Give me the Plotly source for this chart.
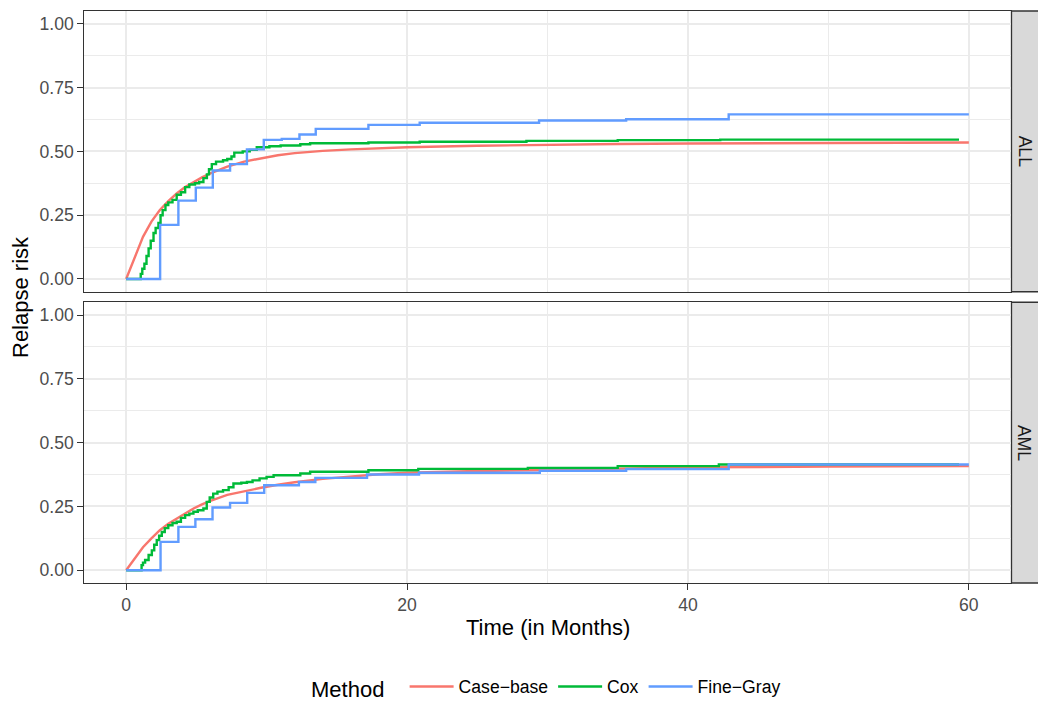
import plotly.graph_objects as go

# ---------------- data ----------------
methods = ["Case\u2212base", "Cox", "Fine\u2212Gray"]
method_colors = ["#F8766D", "#00BA38", "#619CFF"]
panels = ["ALL", "AML"]

# Case-base (smooth curves)
cb_t = [0, 1.2, 1.8, 2.4, 3.0, 3.6, 4.2, 4.8, 5.4, 6.0, 7.2, 8.4, 9.6, 10.8, 12,
        14, 16, 18, 20, 25, 30, 35, 40, 50, 60]
all_cb_y = [0, 0.165, 0.225, 0.27, 0.305, 0.335, 0.36, 0.38, 0.398, 0.414, 0.44,
            0.46, 0.474, 0.485, 0.493, 0.502, 0.508, 0.513, 0.516, 0.522, 0.526,
            0.529, 0.531, 0.534, 0.535]
aml_cb_y = [0, 0.09, 0.125, 0.157, 0.182, 0.203, 0.224, 0.242, 0.258, 0.272, 0.295,
            0.31, 0.323, 0.335, 0.345, 0.358, 0.368, 0.376, 0.382, 0.389, 0.393,
            0.399, 0.403, 0.406, 0.408]

# Cox (step functions)
all_cox_t = [0, 1.04, 1.15, 1.3, 1.45, 1.6, 1.75, 1.95, 2.1, 2.3, 2.45, 2.6, 2.8, 3.0,
             3.3, 3.6, 3.9, 4.2, 4.5, 4.9, 5.2, 5.5, 5.75, 5.9, 6.1, 6.4, 6.9, 7.2,
             7.5, 7.7, 8.3, 8.8, 9.3, 10.2, 11.0, 12.4, 13.1, 17.25, 20.9, 28.5,
             35.0, 42.3, 59.3]
all_cox_y = [0, 0.02, 0.04, 0.06, 0.09, 0.12, 0.15, 0.18, 0.2, 0.22, 0.25, 0.27, 0.29,
             0.3, 0.31, 0.33, 0.34, 0.36, 0.37, 0.375, 0.38, 0.395, 0.41, 0.43, 0.45,
             0.46, 0.465, 0.47, 0.48, 0.495, 0.5, 0.506, 0.516, 0.52, 0.523, 0.528,
             0.532, 0.535, 0.538, 0.541, 0.544, 0.546, 0.546]
aml_cox_t = [0, 1.1, 1.2, 1.35, 1.6, 1.83, 2.0, 2.18, 2.35, 2.54, 2.75, 3.0, 3.3, 3.6,
             3.9, 4.2, 4.5, 4.79, 5.1, 5.5, 5.74, 5.95, 6.2, 6.5, 6.9, 7.3, 7.64, 8.2,
             8.6, 9.0, 9.5, 10.0, 10.5, 12.4, 13.1, 17.25, 20.8, 28.6, 35.0, 42.2, 59.3]
aml_cox_y = [0, 0.02, 0.03, 0.04, 0.06, 0.078, 0.1, 0.118, 0.135, 0.15, 0.165, 0.176,
             0.185, 0.19, 0.205, 0.216, 0.222, 0.229, 0.235, 0.242, 0.268, 0.285, 0.3,
             0.308, 0.314, 0.325, 0.34, 0.343, 0.346, 0.352, 0.36, 0.366, 0.372, 0.379,
             0.386, 0.392, 0.397, 0.401, 0.408, 0.414, 0.414]

# Fine-Gray (step functions)
all_fg_t = [0, 2.42, 3.72, 4.96, 6.17, 7.4, 8.6, 9.8, 11.08, 12.34, 13.5, 17.25, 20.9,
            29.4, 35.6, 42.9, 60]
all_fg_y = [0, 0.212, 0.307, 0.358, 0.425, 0.45, 0.508, 0.545, 0.549, 0.566, 0.588,
            0.604, 0.612, 0.621, 0.626, 0.645, 0.645]
aml_fg_t = [0, 2.45, 3.72, 4.93, 6.15, 7.4, 8.62, 9.83, 12.3, 13.47, 17.15, 20.85,
            29.45, 35.6, 42.9, 60]
aml_fg_y = [0, 0.111, 0.17, 0.2, 0.246, 0.264, 0.303, 0.333, 0.346, 0.362, 0.375,
            0.382, 0.39, 0.396, 0.414, 0.414]

x_ticks = [0, 20, 40, 60]
y_ticks = [0, 0.25, 0.5, 0.75, 1.0]
y_ticklabels = ["0.00", "0.25", "0.50", "0.75", "1.00"]

# ---------------- figure ----------------
W, H = 1038, 702
ml, mt = 84, 11
pw, ph = 927, 572
mr = W - ml - pw
mb = H - mt - ph
gap = 10.5 / ph

fig = go.Figure()
FONT = "Liberation Sans, Arial, sans-serif"
GRID = "#EBEBEB"
BORDER = "#333333"

series = {
    "ALL": [(cb_t, all_cb_y, "linear"), (all_cox_t, all_cox_y, "hv"), (all_fg_t, all_fg_y, "hv")],
    "AML": [(cb_t, aml_cb_y, "linear"), (aml_cox_t, aml_cox_y, "hv"), (aml_fg_t, aml_fg_y, "hv")],
}

for pi, panel in enumerate(panels):
    ax = "" if pi == 0 else "2"
    for mi, (t, y, shape) in enumerate(series[panel]):
        fig.add_trace(go.Scatter(
            x=t, y=y, mode="lines", name=methods[mi],
            line=dict(color=method_colors[mi], width=2.4, shape=shape),
            legendgroup=methods[mi], showlegend=(pi == 0),
            xaxis="x" + ax, yaxis="y" + ax,
        ))

axis_common = dict(
    showline=True, mirror=True, linecolor=BORDER, linewidth=1.3,
    showgrid=True, gridcolor=GRID, gridwidth=2, zeroline=False,
    ticks="outside", ticklen=5.5, tickwidth=1.2, tickcolor=BORDER,
    tickfont=dict(family=FONT, size=17.6, color="#4D4D4D"),
)

fig.update_layout(
    width=W, height=H,
    margin=dict(l=ml, r=mr, t=mt, b=mb, autoexpand=False),
    plot_bgcolor="white", paper_bgcolor="white",
    font=dict(family=FONT, color="black"),
    xaxis=dict(domain=[0, 1], range=[-3, 63], tickvals=x_ticks, showticklabels=False,
               ticks="", anchor="y",
               minor=dict(tick0=10, dtick=20, showgrid=True, gridcolor=GRID, gridwidth=1),
               **{k: v for k, v in axis_common.items() if k != "ticks"}),
    yaxis=dict(domain=[0.5 + gap / 2, 1], range=[-0.05, 1.05], tickvals=y_ticks,
               ticktext=y_ticklabels, anchor="x",
               minor=dict(tick0=0.125, dtick=0.25, showgrid=True, gridcolor=GRID, gridwidth=1),
               **axis_common),
    xaxis2=dict(domain=[0, 1], range=[-3, 63], tickvals=x_ticks, anchor="y2",
                minor=dict(tick0=10, dtick=20, showgrid=True, gridcolor=GRID, gridwidth=1),
                **axis_common),
    yaxis2=dict(domain=[0, 0.5 - gap / 2], range=[-0.05, 1.05], tickvals=y_ticks,
                ticktext=y_ticklabels, anchor="x2",
                minor=dict(tick0=0.125, dtick=0.25, showgrid=True, gridcolor=GRID, gridwidth=1),
                **axis_common),
    legend=dict(orientation="h", x=0.5, xanchor="center",
                y=(583 - 688) / ph, yanchor="middle",
                title=dict(text="Method  ", side="left", font=dict(family=FONT, size=22, color="black")),
                font=dict(family=FONT, size=17.6, color="black"),
                itemwidth=44, bgcolor="rgba(0,0,0,0)"),
)

# strips on the right
sx0 = 1.0 + 0.5 / pw
sx1 = (W - ml) / pw
strip_domains = [(0.5 + gap / 2, 1), (0, 0.5 - gap / 2)]
for panel, (d0, d1) in zip(panels, strip_domains):
    fig.add_shape(type="rect", xref="paper", yref="paper", x0=sx0, x1=sx1 + 0.02, y0=d0, y1=d1,
                  fillcolor="#D9D9D9", line=dict(color=BORDER, width=1.3), layer="below")
    fig.add_annotation(text=panel, xref="paper", yref="paper", x=(sx0 + sx1) / 2, y=(d0 + d1) / 2,
                       showarrow=False, textangle=90, xanchor="center", yanchor="middle",
                       font=dict(family=FONT, size=17.6, color="#1A1A1A"))

# axis titles
fig.add_annotation(text="Relapse risk", xref="paper", yref="paper", x=(20 - ml) / pw, y=0.5,
                   showarrow=False, textangle=-90, xanchor="center", yanchor="middle",
                   font=dict(family=FONT, size=22, color="black"))
fig.add_annotation(text="Time (in Months)", xref="paper", yref="paper", x=0.5, y=(583 - 627) / ph,
                   showarrow=False, xanchor="center", yanchor="middle",
                   font=dict(family=FONT, size=22, color="black"))

fig.write_html(
    "out.html",
    config={"displayModeBar": False},
    post_script="document.body.style.margin='0';document.body.style.overflow='hidden';",
)
